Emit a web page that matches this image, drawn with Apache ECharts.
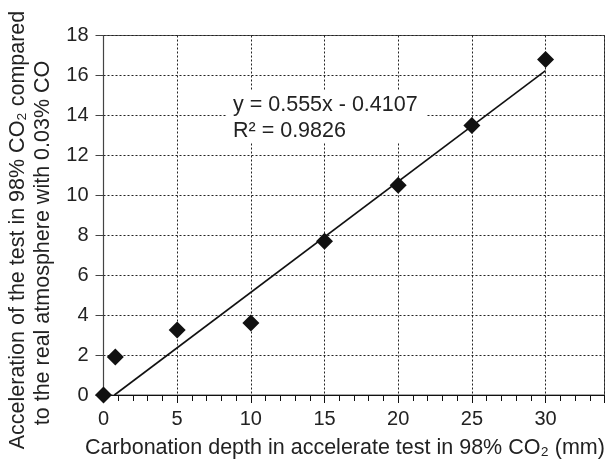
<!DOCTYPE html>
<html>
<head>
<meta charset="utf-8">
<script src="https://cdn.jsdelivr.net/npm/echarts@6/dist/echarts.min.js"></script>
<style>
  html, body { margin: 0; padding: 0; background: #fff; }
  #chart { width: 606px; height: 461px; }
</style>
</head>
<body>
<div id="chart"></div>
<script>
// measured points (carbonation depth mm, acceleration factor)
var depth = [0, 0.8, 5, 10, 15, 20, 25, 30]
var accel = [0, 1.9, 3.25, 3.6, 7.7, 10.5, 13.5, 16.8]
// linear trend from the equation on the chart
var slope = 0.555
var intercept = -0.4107
var trendX = [-intercept / slope, 30]
var yTicks = [0, 2, 4, 6, 8, 10, 12, 14, 16, 18]

var points = depth.map(function (d, i) { return [d, accel[i]] })
var trend = trendX.map(function (x) { return [x, slope * x + intercept] })

var font = 'Liberation Sans, Arial, sans-serif'
var chart = echarts.init(document.getElementById('chart'))

chart.setOption({
  animation: false,
  backgroundColor: '#fff',
  grid: {
    left: 103.5,
    top: 35.5,
    width: 501,
    height: 359.5,
    outerBoundsMode: 'none',
    containLabel: false,
    show: true,
    borderColor: '#555',
    borderWidth: 1,
    backgroundColor: 'transparent'
  },
  xAxis: {
    type: 'value',
    min: 0,
    max: 34,
    interval: 5,
    name: 'Carbonation depth in accelerate test in 98% CO\u2082 (mm)',
    nameLocation: 'middle',
    nameGap: 42,
    nameTextStyle: { fontFamily: font, fontSize: 21.5, color: '#222', padding: [0, 18, 0, 0] },
    axisLine: { onZero: false, lineStyle: { color: '#111', width: 1 } },
    axisTick: { show: true, length: 8, lineStyle: { color: '#111' } },
    minorTick: { show: true, splitNumber: 5, length: 6, lineStyle: { color: '#111' } },
    axisLabel: {
      margin: 14, fontFamily: font, fontSize: 20, color: '#222',
      formatter: function (v) { return v > 30 ? '' : v }
    },
    splitLine: { show: true, lineStyle: { color: '#222', type: [2, 2], width: 1 } }
  },
  yAxis: {
    type: 'value',
    min: 0,
    max: 18,
    interval: 2,
    axisLine: { show: true, onZero: false, lineStyle: { color: '#444', width: 1.2 } },
    axisTick: { show: true, length: 8, lineStyle: { color: '#444' } },
    axisLabel: {
      margin: 15, fontFamily: font, fontSize: 20, color: '#222',
      formatter: function (v) { return yTicks.indexOf(v) >= 0 ? v : '' }
    },
    splitLine: { show: true, lineStyle: { color: '#222', type: [2, 2], width: 1 } }
  },
  graphic: [
    {
      type: 'rect',
      shape: { x: 227, y: 90, width: 199, height: 53 },
      style: { fill: '#fff' },
      z: 10
    },
    {
      type: 'text',
      x: 233, y: 105,
      style: { text: 'y = 0.555x - 0.4107', font: '21.5px ' + font, fill: '#222', verticalAlign: 'middle' },
      z: 11
    },
    {
      type: 'text',
      x: 233, y: 131,
      style: { text: 'R\u00b2 = 0.9826', font: '21.5px ' + font, fill: '#222', verticalAlign: 'middle' },
      z: 11
    },
    {
      type: 'text',
      x: 18, y: 230, rotation: Math.PI / 2,
      style: { text: 'Acceleration of the test in 98% CO\u2082 compared', font: '21.5px ' + font, fill: '#222', align: 'center', verticalAlign: 'middle' }
    },
    {
      type: 'text',
      x: 43.5, y: 243, rotation: Math.PI / 2,
      style: { text: 'to the real atmosphere with 0.03% CO', font: '21.5px ' + font, fill: '#222', align: 'center', verticalAlign: 'middle' }
    }
  ],
  series: [
    {
      type: 'line',
      data: trend,
      showSymbol: false,
      lineStyle: { color: '#111', width: 1.6 },
      z: 3
    },
    {
      type: 'scatter',
      data: points,
      symbol: 'diamond',
      symbolSize: 17,
      itemStyle: { color: '#111', opacity: 1 },
      z: 4
    }
  ]
})
</script>
</body>
</html>
